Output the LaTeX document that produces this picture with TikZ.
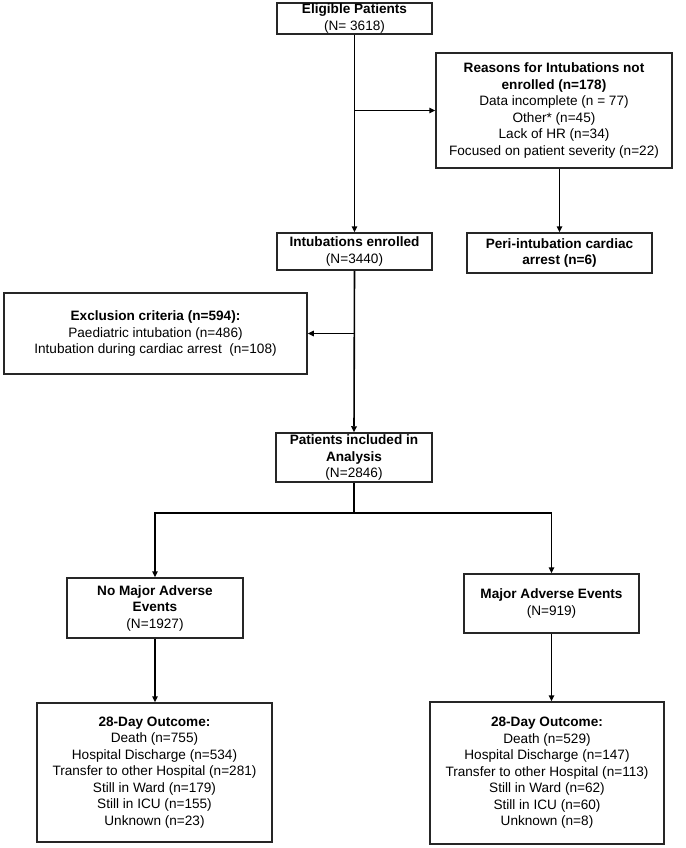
\documentclass[tikz,border=0pt]{standalone}
\usepackage{fontspec}
\setmainfont{Liberation Sans}
\usetikzlibrary{arrows.meta}
\begin{document}
\begin{tikzpicture}[x=1pt,y=-1pt,
  box/.style={draw=black!85, line width=1.5pt, align=center, inner sep=0pt,
    font=\fontsize{13.6}{16.5}\selectfont},
  conn/.style={line width=1.6pt},
  arr/.style={line width=1.6pt, -{Triangle[length=6pt,width=5.5pt]}}]
\useasboundingbox[fill=white] (0,0) rectangle (685,848);

\node[box, minimum width=155pt, minimum height=31pt] (elig) at (354.5,18.5)
  {\textbf{Eligible Patients}\\(N= 3618)};
\node[box, minimum width=236pt, minimum height=115pt] (reasons) at (554,110.5)
  {\textbf{Reasons for Intubations not}\\\textbf{enrolled (n=178)}\\Data incomplete (n = 77)\\Other* (n=45)\\Lack of HR (n=34)\\Focused on patient severity (n=22)};
\node[box, minimum width=185pt, minimum height=40pt] (peri) at (559.5,253)
  {\textbf{Peri-intubation cardiac}\\\textbf{arrest (n=6)}};
\node[box, minimum width=155pt, minimum height=37pt] (intub) at (354.5,251.5)
  {\textbf{Intubations enrolled}\\(N=3440)};
\node[box, minimum width=303pt, minimum height=81pt] (excl) at (155.5,333.5)
  {\textbf{Exclusion criteria (n=594):}\\Paediatric intubation (n=486)\\Intubation during cardiac arrest~ (n=108)};
\node[box, minimum width=156pt, minimum height=49pt] (patients) at (354,457.5)
  {\textbf{Patients included in}\\\textbf{Analysis}\\(N=2846)};
\node[box, minimum width=176pt, minimum height=60pt] (nomaj) at (155,608)
  {\textbf{No Major Adverse}\\\textbf{Events}\\(N=1927)};
\node[box, minimum width=175pt, minimum height=59pt] (maj) at (551.5,603.5)
  {\textbf{Major Adverse Events}\\(N=919)};
\node[box, minimum width=235pt, minimum height=139pt] (out1) at (154.5,772.5)
  {\textbf{28-Day Outcome:}\\Death (n=755)\\Hospital Discharge (n=534)\\Transfer to other Hospital (n=281)\\Still in Ward (n=179)\\Still in ICU (n=155)\\Unknown (n=23)};
\node[box, minimum width=234pt, minimum height=142pt] (out2) at (547,773)
  {\textbf{28-Day Outcome:}\\Death (n=529)\\Hospital Discharge (n=147)\\Transfer to other Hospital (n=113)\\Still in Ward (n=62)\\Still in ICU (n=60)\\Unknown (n=8)};

\coordinate (split) at (354,513);

\draw[arr] (elig.south) -- (intub.north);
\draw[arr] (elig.south |- reasons.west) -- (reasons.west);
\draw[arr] (peri.north |- reasons.south) -- (peri.north);
\draw[arr] (intub.south) -- (patients.north);
\draw[arr] (intub.south |- excl.east) -- (excl.east);
\draw[conn] (patients.south) -- (split);
\draw[arr] (split) -| (nomaj.north);
\draw[arr] (split) -| (maj.north);
\draw[arr] (nomaj.south) -- (nomaj.south |- out1.north);
\draw[arr] (maj.south) -- (maj.south |- out2.north);
\end{tikzpicture}
\end{document}
